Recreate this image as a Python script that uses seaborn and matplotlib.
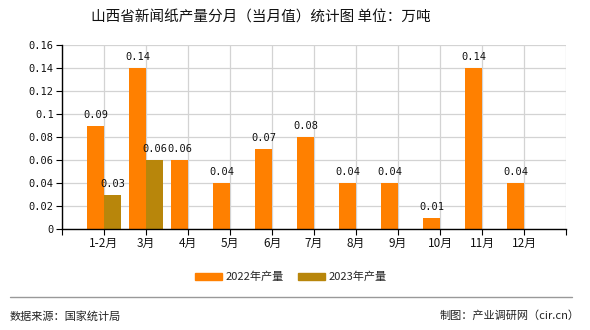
import numpy as np
import pandas as pd
import matplotlib
matplotlib.use("Agg")
import matplotlib.pyplot as plt
from matplotlib.lines import Line2D
import seaborn as sns

months = ["1-2月", "3月", "4月", "5月", "6月", "7月", "8月", "9月", "10月", "11月", "12月"]
output_2022 = [0.09, 0.14, 0.06, 0.04, 0.07, 0.08, 0.04, 0.04, 0.01, 0.14, 0.04]
output_2023 = [0.03, 0.06, np.nan, np.nan, np.nan, np.nan, np.nan, np.nan, np.nan, np.nan, np.nan]
series_names = ["2022年产量", "2023年产量"]
y_ticks = [0, 0.02, 0.04, 0.06, 0.08, 0.1, 0.12, 0.14, 0.16]

sns.set_style("white")
plt.rcParams["font.family"] = ["Noto Sans CJK SC", "DejaVu Sans"]

df = pd.DataFrame({
    "month": months * 2,
    "value": output_2022 + output_2023,
    "series": [series_names[0]] * len(months) + [series_names[1]] * len(months),
})

fig = plt.figure(figsize=(5.9, 3.3), dpi=100)
ax = fig.add_axes([62 / 590, 1 - 229 / 330, 504 / 590, 184 / 330])

palette = {series_names[0]: "#FF8000", series_names[1]: "#B8860B"}
sns.barplot(data=df, x="month", y="value", hue="series", order=months,
            hue_order=series_names, palette=palette, width=0.8, saturation=1,
            linewidth=0, edgecolor="none", ax=ax, legend=False)

# value labels above each bar
mono = ["DejaVu Sans Mono"]
for container in ax.containers:
    bars = [b for b in container.patches if b is not None]
    for bar in bars:
        h = bar.get_height()
        if np.isnan(h):
            continue
        ax.annotate(f"{h:.2f}",
                    (bar.get_x() + bar.get_width() / 2, h),
                    xytext=(0, 4), textcoords="offset points",
                    ha="center", va="bottom", fontsize=7.5,
                    family=mono, color="#111111")

ax.set_xlim(-1, 11)
ax.set_ylim(0, 0.16)
ax.set_xticks(range(-1, 12))
ax.set_xticklabels([""] + months + [""], fontsize=8.5, color="#111111")
ax.set_yticks(y_ticks)
ax.set_yticklabels([f"{t:g}" for t in y_ticks],
                   fontsize=7.5, family=mono, color="#111111")
ax.set_xlabel("")
ax.set_ylabel("")
ax.grid(True, color="#d3d3d3", linewidth=0.9)
ax.set_axisbelow(True)
for side in ["top", "right"]:
    ax.spines[side].set_visible(False)
for side in ["left", "bottom"]:
    ax.spines[side].set_color("#000000")
    ax.spines[side].set_linewidth(1.0)
ax.tick_params(axis="both", which="both", direction="out", length=4,
               width=0.8, color="#000000", pad=2, bottom=True, left=True)

fig.text(261 / 590, 1 - 18 / 330, "山西省新闻纸产量分月（当月值）统计图 单位：万吨",
         ha="center", va="center", fontsize=10.5, color="#111111")

handles = [plt.Rectangle((0, 0), 1, 1, color=palette[n]) for n in series_names]
fig.legend(handles, series_names, loc="center", bbox_to_anchor=(291 / 590, 1 - 277 / 330),
           ncol=2, frameon=False, fontsize=8, handlelength=2.4, handleheight=0.6,
           columnspacing=1.3, handletextpad=0.35)

fig.add_artist(Line2D([10 / 590, 572 / 590], [1 - 297 / 330, 1 - 297 / 330],
                      color="#999999", linewidth=1.0))
fig.text(10 / 590, 1 - 316 / 330, "数据来源：国家统计局", ha="left", va="center",
         fontsize=8, color="#222222")
fig.text(580 / 590, 1 - 316 / 330, "制图：产业调研网（cir.cn）", ha="right", va="center",
         fontsize=8, color="#222222")

fig.savefig("out.png", dpi=100, facecolor="white")
